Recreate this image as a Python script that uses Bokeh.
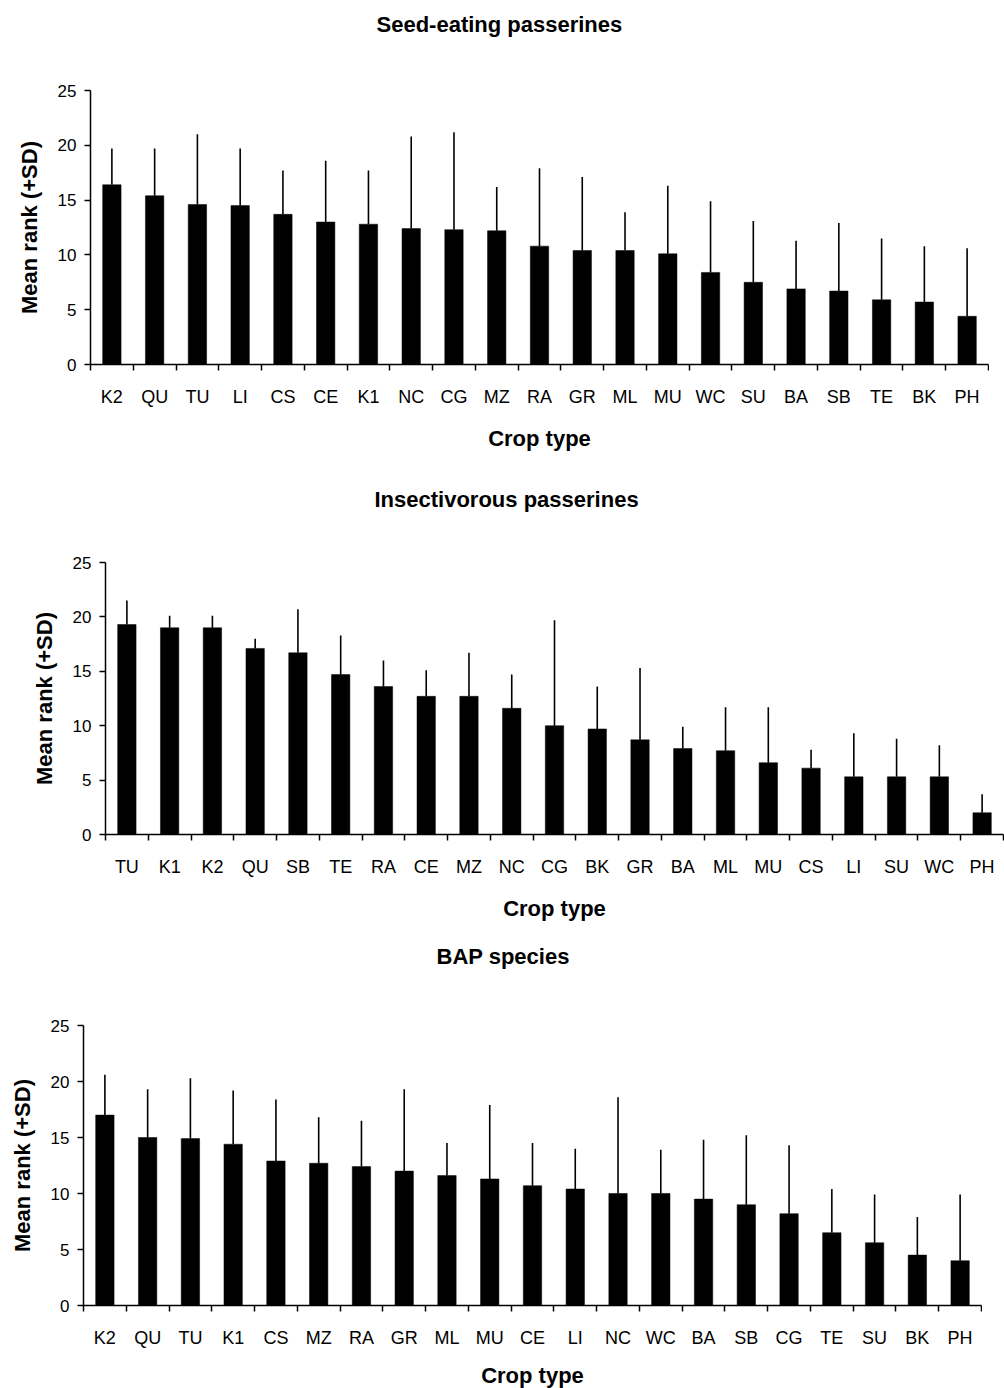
from bokeh.plotting import figure
from bokeh.layouts import column
from bokeh.models import Range1d, FixedTicker, Title
from bokeh.embed import file_html
from bokeh.resources import INLINE

# Seed-eating passerines: mean rank and SD per crop type
seed_crops = ["K2", "QU", "TU", "LI", "CS", "CE", "K1", "NC", "CG", "MZ", "RA",
              "GR", "ML", "MU", "WC", "SU", "BA", "SB", "TE", "BK", "PH"]
seed_mean = [16.4, 15.4, 14.6, 14.5, 13.7, 13.0, 12.8, 12.4, 12.3, 12.2, 10.8,
             10.4, 10.4, 10.1, 8.4, 7.5, 6.9, 6.7, 5.9, 5.7, 4.4]
seed_sd = [3.3, 4.3, 6.4, 5.2, 4.0, 5.6, 4.9, 8.4, 8.9, 4.0, 7.1,
           6.7, 3.5, 6.2, 6.5, 5.6, 4.4, 6.2, 5.6, 5.1, 6.2]

# Insectivorous passerines
insect_crops = ["TU", "K1", "K2", "QU", "SB", "TE", "RA", "CE", "MZ", "NC", "CG",
                "BK", "GR", "BA", "ML", "MU", "CS", "LI", "SU", "WC", "PH"]
insect_mean = [19.3, 19.0, 19.0, 17.1, 16.7, 14.7, 13.6, 12.7, 12.7, 11.6, 10.0,
               9.7, 8.7, 7.9, 7.7, 6.6, 6.1, 5.3, 5.3, 5.3, 2.0]
insect_sd = [2.2, 1.1, 1.1, 0.9, 4.0, 3.6, 2.4, 2.4, 4.0, 3.1, 9.7,
             3.9, 6.6, 2.0, 4.0, 5.1, 1.7, 4.0, 3.5, 2.9, 1.7]

# BAP species
bap_crops = ["K2", "QU", "TU", "K1", "CS", "MZ", "RA", "GR", "ML", "MU", "CE",
             "LI", "NC", "WC", "BA", "SB", "CG", "TE", "SU", "BK", "PH"]
bap_mean = [17.0, 15.0, 14.9, 14.4, 12.9, 12.7, 12.4, 12.0, 11.6, 11.3, 10.7,
            10.4, 10.0, 10.0, 9.5, 9.0, 8.2, 6.5, 5.6, 4.5, 4.0]
bap_sd = [3.6, 4.3, 5.4, 4.8, 5.5, 4.1, 4.1, 7.3, 2.9, 6.6, 3.8,
          3.6, 8.6, 3.9, 5.3, 6.2, 6.1, 3.9, 4.3, 3.4, 5.9]

y_ticks = [0, 5, 10, 15, 20, 25]

FONT = "Liberation Sans"
FRAME_LEFT = 105  # common left border of all three plot frames
PAGE_W = 1004
PAGE_H = 1388


def panel(title, crops, mean, sd, height, shift, frame_right, top, bottom,
          title_left, title_gap, xlabel_standoff=16):
    """One bar panel.  `shift` moves the canvas left (px) so the frame starts
    at FRAME_LEFT - shift on the page; `title_left` is the title's left edge
    on the page and `title_gap` the space between title and frame (px)."""
    n = len(crops)
    centers = [i + 0.5 for i in range(n)]
    upper = [m + s for m, s in zip(mean, sd)]
    width = frame_right + shift + 1

    p = figure(width=width, height=height, title=None,
               x_range=Range1d(0, n), y_range=Range1d(0, 25),
               output_backend="svg", toolbar_location=None,
               min_border_left=FRAME_LEFT, min_border_right=1,
               min_border_top=top, min_border_bottom=bottom)
    if shift:
        p.styles = {"transform": f"translateX({-shift}px)"}
    p.outline_line_color = None
    p.xgrid.visible = False
    p.ygrid.visible = False
    p.background_fill_color = "white"
    p.border_fill_color = "white"

    # error bars (mean + SD) then bars
    p.segment(x0=centers, y0=mean, x1=centers, y1=upper,
              line_color="black", line_width=1.6)
    p.vbar(x=centers, top=mean, bottom=0, width=0.43,
           fill_color="black", line_color="black", line_width=0.5)

    # blank spacer next to the frame, then the panel title above it
    p.add_layout(Title(text=" ", text_font_size="1px", standoff=title_gap - 3),
                 "above")
    p.add_layout(Title(text=title, align="left",
                       offset=title_left - (FRAME_LEFT - shift),
                       standoff=0, vertical_align="bottom",
                       text_font=FONT, text_font_size="22px",
                       text_font_style="bold", text_color="black"),
                 "above")

    xa = p.xaxis[0]
    xa.ticker = FixedTicker(ticks=centers, minor_ticks=list(range(n + 1)))
    xa.major_label_overrides = {c: name for c, name in zip(centers, crops)}
    xa.major_tick_out = 0
    xa.major_tick_in = 0
    xa.minor_tick_out = 6
    xa.minor_tick_in = 0
    xa.minor_tick_line_width = 1.5
    xa.minor_tick_line_color = "black"
    xa.axis_line_width = 1.5
    xa.axis_line_color = "black"
    xa.major_label_standoff = 16
    xa.major_label_text_font = FONT
    xa.major_label_text_font_size = "18px"
    xa.major_label_text_color = "black"
    xa.axis_label = "Crop type"
    xa.axis_label_standoff = xlabel_standoff
    xa.axis_label_text_font = FONT
    xa.axis_label_text_font_size = "22px"
    xa.axis_label_text_font_style = "bold"
    xa.axis_label_text_color = "black"

    ya = p.yaxis[0]
    ya.ticker = FixedTicker(ticks=y_ticks)
    ya.major_tick_out = 6
    ya.major_tick_in = 0
    ya.minor_tick_out = 0
    ya.minor_tick_in = 0
    ya.major_tick_line_width = 1.5
    ya.major_tick_line_color = "black"
    ya.axis_line_width = 1.5
    ya.axis_line_color = "black"
    ya.major_label_standoff = 8
    ya.major_label_text_font = FONT
    ya.major_label_text_font_size = "17px"
    ya.major_label_text_color = "black"
    ya.axis_label = "Mean rank (+SD)"
    ya.axis_label_standoff = 13
    ya.axis_label_text_font = FONT
    ya.axis_label_text_font_size = "22px"
    ya.axis_label_text_font_style = "bold"
    ya.axis_label_text_color = "black"
    return p


p1 = panel("Seed-eating passerines", seed_crops, seed_mean, seed_sd,
           470, 15, 990, 90, 106, 376, 54)
p2 = panel("Insectivorous passerines", insect_crops, insect_mean, insect_sd,
           465, 0, 1003, 92, 101, 374, 51)
p3 = panel("BAP species", bap_crops, bap_mean, bap_sd,
           458, 22, 1003, 90, 88, 436, 57, xlabel_standoff=12)

layout = column(p1, p2, p3, spacing=0, width=PAGE_W, height=PAGE_H,
                styles={"overflow": "hidden"})
open("out.html", "w").write(file_html(layout, INLINE))
